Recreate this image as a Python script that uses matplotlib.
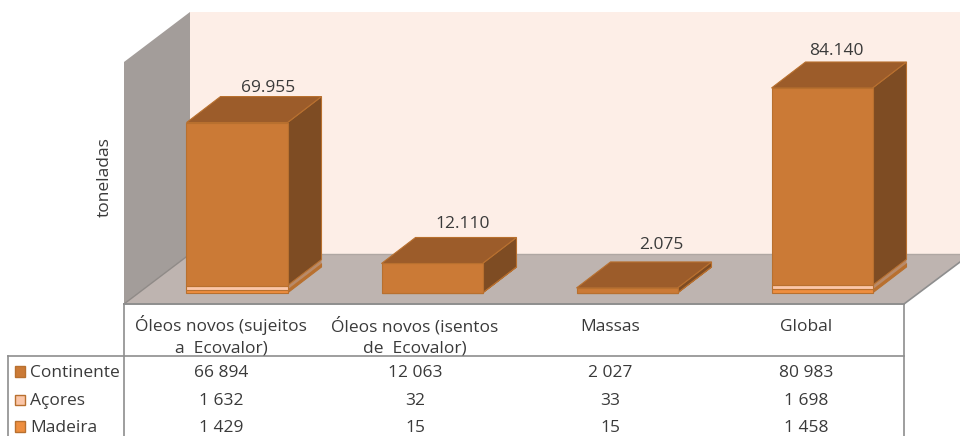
#!/usr/bin/env python3
import matplotlib
matplotlib.use('Agg')
import matplotlib.pyplot as plt
from matplotlib.patches import Polygon, Rectangle

plt.rcParams['font.family'] = ['Open Sans', 'DejaVu Sans']

categories = ['Óleos novos (sujeitos\na  Ecovalor)', 'Óleos novos (isentos\nde  Ecovalor)', 'Massas', 'Global']
series_names = ['Continente', 'Açores', 'Madeira']
continente = [66894, 12063, 2027, 80983]
acores = [1632, 32, 33, 1698]
madeira = [1429, 15, 15, 1458]
total_labels = ['69.955', '12.110', '2.075', '84.140']
table_rows = [
    ['66 894', '12 063', '2 027', '80 983'],
    ['1 632', '32', '33', '1 698'],
    ['1 429', '15', '15', '1 458'],
]

W, H = 960, 436
FRONT = {'Continente': '#CB7A36', 'Açores': '#FBC6A8', 'Madeira': '#EE8E3F'}
TOP = '#9C5C2A'
SIDE = '#7E4C23'
EDGE = '#B8702F'
LINE = '#8E8E8E'
TEXT = '#3A3A3A'
FS = 12.5

fig = plt.figure(figsize=(W / 100, H / 100), dpi=100)

# pixel axes for walls and table
px = fig.add_axes([0, 0, 1, 1])
px.set_xlim(0, W)
px.set_ylim(H, 0)
px.axis('off')

px.add_patch(Polygon([(190, 12), (960, 12), (960, 254), (190, 254)], fc='#FDEEE7', ec='none'))
px.add_patch(Polygon([(124, 62), (190, 12), (190, 254), (124, 304)], fc='#A39D9A', ec='none'))
px.add_patch(Polygon([(124, 304), (190, 254), (960, 254), (960, 262), (904, 304)], fc='#BEB4B0', ec='none'))
px.plot([190, 960], [254, 254], color='#AFA7A3', lw=1)
px.plot([124, 190], [304, 254], color='#8F8A87', lw=1)
px.plot([904, 960], [304, 262], color=LINE, lw=1.2)

# table frame
px.plot([124, 904], [304, 304], color=LINE, lw=1.4)
px.plot([124, 124], [304, H], color=LINE, lw=1.2)
px.plot([904, 904], [304, H], color=LINE, lw=1.2)
px.plot([8, 904], [356, 356], color=LINE, lw=1.2)
px.plot([8, 8], [356, H], color=LINE, lw=1.2)

# data axes: x in category index, y in tonnes
unit_x = 195.0
unit_y = 205.0 / 84140
ax = fig.add_axes([0, 0, 1, 1], zorder=2)
ax.patch.set_alpha(0)
ax.set_xlim(-237 / unit_x, (W - 237) / unit_x)
ax.set_ylim(-(H - 293) / unit_y, 293 / unit_y)
ax.axis('off')

bar_w = 101 / unit_x
dx = 34 / unit_x
dy = 26 / unit_y
# label nudges in pixels, the source places each one by hand
label_dx = [31, 31, 34, 14]
label_dy = [1, 5, 9, 3]

for i in range(len(categories)):
    l, r = i - bar_w / 2, i + bar_w / 2
    bottom = 0
    for name, vals in zip(series_names[::-1], [madeira, acores, continente]):
        v = vals[i]
        top = bottom + v
        shade = SIDE if name == 'Continente' else '#B98A68' if name == 'Açores' else '#B8702F'
        ax.add_patch(Polygon([(r, bottom), (r + dx, bottom + dy), (r + dx, top + dy), (r, top)],
                             fc=shade, ec=EDGE if name != 'Açores' else 'none', lw=0.8))
        ax.bar(i, v, bar_w, bottom=bottom, color=FRONT[name], edgecolor=EDGE, linewidth=0.8)
        bottom = top
    ax.add_patch(Polygon([(l, bottom), (r, bottom), (r + dx, bottom + dy), (l + dx, bottom + dy)],
                         fc=TOP, ec=EDGE, lw=0.8))
    ax.text(i + label_dx[i] / unit_x, bottom + dy + label_dy[i] / unit_y, total_labels[i],
            ha='center', va='bottom', fontsize=FS, color=TEXT)

cat_x = [221, 415, 610, 806]
for x, cat in zip(cat_x, categories):
    # one text per line so single-line names sit on the first baseline
    for line, base in zip(cat.split('\n'), [331, 352.5]):
        px.text(x, base, line, ha='center', va='baseline', fontsize=FS, color=TEXT)

row_base = [376.5, 405, 431.5]
swatch = ['#CB7A36', '#FBC6A8', '#EE8E3F']
for y, name, col, row in zip(row_base, series_names, swatch, table_rows):
    px.add_patch(Rectangle((14.5, y - 10.5), 10.5, 10.5, fc=col, ec='#B8702F', lw=1))
    px.text(30, y, name, ha='left', va='baseline', fontsize=FS, color=TEXT)
    for x, val in zip(cat_x, row):
        px.text(x, y, val, ha='center', va='baseline', fontsize=FS, color=TEXT)

px.text(104.5, 177, 'toneladas', rotation=90, ha='center', va='center', fontsize=FS, color=TEXT)

fig.savefig('out.png', dpi=100)
